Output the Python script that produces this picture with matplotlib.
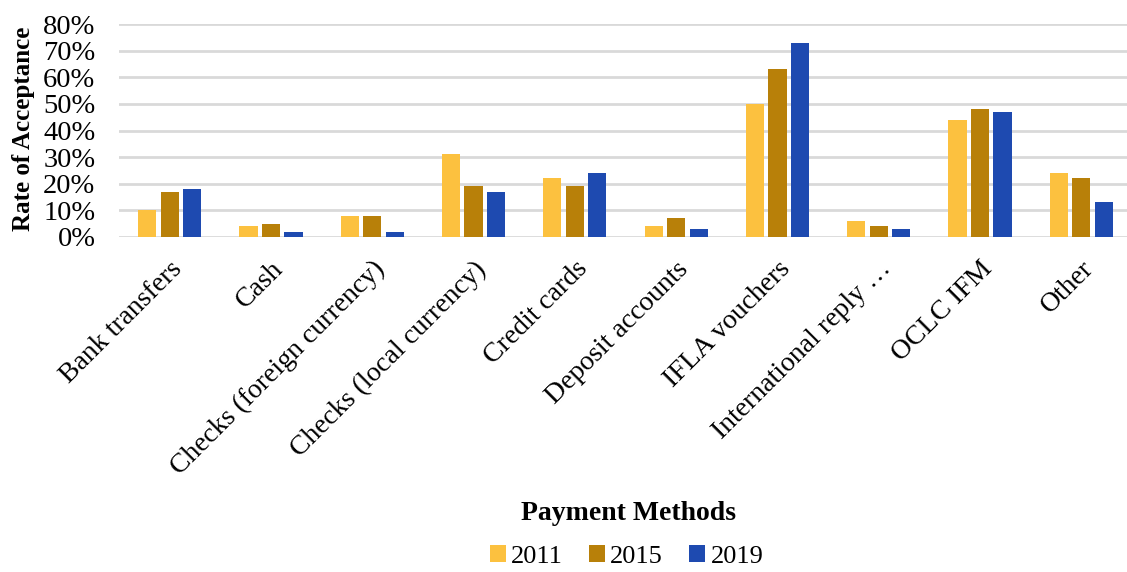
import matplotlib.pyplot as plt
import numpy as np
from matplotlib.ticker import PercentFormatter

# data
methods = ["Bank transfers", "Cash", "Checks (foreign currency)", "Checks (local currency)",
           "Credit cards", "Deposit accounts", "IFLA vouchers", "International reply \u2026",
           "OCLC IFM", "Other"]
years = ["2011", "2015", "2019"]
rate_2011 = [10, 4, 8, 31, 22, 4, 50, 6, 44, 24]
rate_2015 = [17, 5, 8, 19, 19, 7, 63, 4, 48, 22]
rate_2019 = [18, 2, 2, 17, 24, 3, 73, 3, 47, 13]
colors = ["#FCC13F", "#B88009", "#1E4AB0"]

plt.rcParams["font.family"] = ["Liberation Serif", "DejaVu Serif"]

fig = plt.figure(figsize=(11.27, 5.72), dpi=100)
ax = fig.add_axes([119 / 1127, 335 / 572, 1013 / 1127, 213 / 572])

x = np.arange(len(methods))
w = 0.18
step = 0.222
for i, (vals, yr) in enumerate(zip([rate_2011, rate_2015, rate_2019], years)):
    ax.bar(x + (i - 1) * step, vals, width=w, color=colors[i], label=yr, zorder=3)

ax.set_xlim(-0.5, len(methods) - 0.5)
ax.set_ylim(0, 80)
ax.set_yticks(range(0, 81, 10))
ax.yaxis.set_major_formatter(PercentFormatter(decimals=0))
ax.grid(axis="y", color="#D9D9D9", linewidth=2, zorder=0)
for s in ax.spines.values():
    s.set_visible(False)
ax.tick_params(axis="both", length=0)
ax.tick_params(axis="y", pad=17, labelsize=20.5)
ax.tick_params(axis="x", pad=14)
ax.set_xticks(x)
ax.set_xticklabels(methods, rotation=45, ha="right", rotation_mode="anchor", fontsize=20)

fig.text(0.021, 0.774, "Rate of Acceptance", rotation=90, fontsize=18,
         fontweight="bold", ha="center", va="center")
fig.text(0.558, 0.103, "Payment Methods", fontsize=20, fontweight="bold",
         ha="center", va="center")
fig.legend(loc="center", bbox_to_anchor=(0.556, 0.027), ncol=3, frameon=False,
           fontsize=19, handlelength=0.6, handleheight=0.6, handletextpad=0.2,
           columnspacing=1.0)

fig.savefig("out.png", dpi=100)
